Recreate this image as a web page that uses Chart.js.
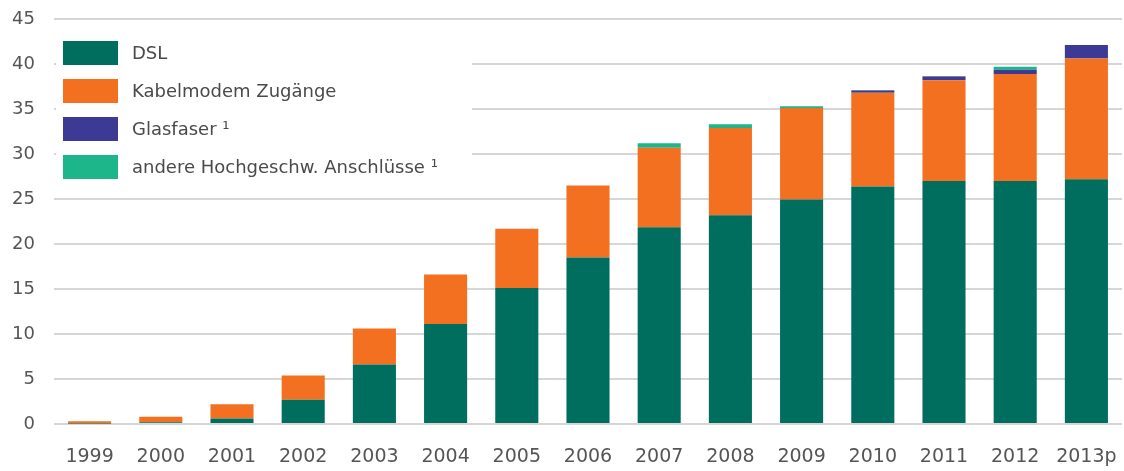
<!DOCTYPE html>
<html>
<head>
<meta charset="utf-8">
<script src="https://cdn.jsdelivr.net/npm/chart.js@4/dist/chart.umd.min.js"></script>
<style>
  html, body { margin: 0; padding: 0; background: #ffffff; }
  #wrap { width: 1124px; height: 471px; }
</style>
</head>
<body>
<div id="wrap"><canvas id="c" width="1124" height="471"></canvas></div>
<script>
// Breitbandanschlüsse in Deutschland (Mio.)
const years = ['1999','2000','2001','2002','2003','2004','2005','2006','2007','2008','2009','2010','2011','2012','2013p'];
const dsl = [0.05, 0.2, 0.6, 2.7, 6.6, 11.1, 15.1, 18.5, 21.85, 23.2, 24.95, 26.4, 27.0, 27.0, 27.2];
const kabel = [0.25, 0.6, 1.6, 2.7, 4.0, 5.5, 6.6, 8.0, 8.85, 9.7, 10.15, 10.4, 11.2, 11.9, 13.4];
const glasfaser = [0, 0, 0, 0, 0, 0, 0, 0, 0, 0, 0, 0.25, 0.4, 0.45, 1.5];
const andere = [0, 0, 0, 0, 0, 0, 0, 0, 0.5, 0.4, 0.2, 0.05, 0.08, 0.35, 0];
const yTicks = [0, 5, 10, 15, 20, 25, 30, 35, 40, 45];

const seriesNames = ['DSL', 'Kabelmodem Zugänge', 'Glasfaser ¹', 'andere Hochgeschw. Anschlüsse ¹'];
const seriesColors = ['#006e5e', '#f37021', '#3d3a96', '#1db68b'];

const FONT = '"DejaVu Sans", "Open Sans", sans-serif';
const TEXT = '#555555';

// Legend drawn on a white panel in the upper-left part of the plot
const boxLegend = {
  id: 'boxLegend',
  beforeDatasetsDraw(chart) {
    const ctx = chart.ctx;
    ctx.save();
    ctx.fillStyle = '#ffffff';
    ctx.fillRect(56, 30, 416, 158);
    chart.data.datasets.forEach((ds, i) => {
      const y = 41 + i * 38;
      ctx.fillStyle = ds.backgroundColor;
      ctx.fillRect(63, y, 55, 24);
      ctx.fillStyle = '#4a4a4a';
      ctx.font = '18px ' + FONT;
      ctx.textBaseline = 'middle';
      ctx.textAlign = 'left';
      ctx.fillText(ds.label, 132, y + 13);
    });
    ctx.restore();
  }
};

const datasets = [dsl, kabel, glasfaser, andere].map((d, i) => ({
  label: seriesNames[i],
  data: d,
  backgroundColor: seriesColors[i],
  borderWidth: 0,
  categoryPercentage: 1.0,
  barPercentage: 0.605
}));

new Chart(document.getElementById('c'), {
  type: 'bar',
  data: { labels: years, datasets },
  options: {
    responsive: false,
    animation: false,
    devicePixelRatio: 1,
    layout: { padding: { top: 19, right: 2, left: 0, bottom: 0 } },
    plugins: {
      legend: { display: false },
      tooltip: { enabled: false }
    },
    scales: {
      x: {
        stacked: true,
        grid: { display: false, drawTicks: false },
        border: { display: false },
        ticks: { color: TEXT, font: { family: FONT, size: 19 }, padding: 22, maxRotation: 0, autoSkip: false },
        afterFit(s) { s.height = 47; s.paddingLeft = 0; s.paddingRight = 0; }
      },
      y: {
        stacked: true,
        min: 0,
        max: 45,
        afterBuildTicks(s) { s.ticks = yTicks.map(v => ({ value: v })); },
        grid: { color: '#d6d6d6', lineWidth: 2, drawTicks: false },
        border: { display: false },
        ticks: { color: TEXT, font: { family: FONT, size: 18 }, padding: 19 },
        afterFit(s) { s.width = 54; s.paddingTop = 0; s.paddingBottom = 0; }
      }
    }
  },
  plugins: [boxLegend]
});
</script>
</body>
</html>
